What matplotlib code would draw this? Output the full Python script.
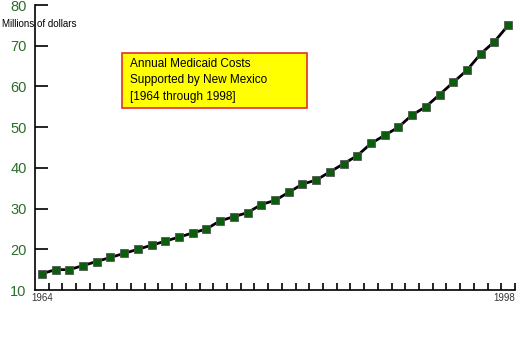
import matplotlib
matplotlib.use("Agg")
import matplotlib.pyplot as plt
from matplotlib.patches import Rectangle

plt.rcParams['font.family'] = ['Liberation Sans', 'DejaVu Sans']

years = list(range(1964, 1999))
costs = [14, 15, 15, 16, 17, 18, 19, 20, 21, 22, 23, 24, 25, 27, 28, 29, 31, 32,
         34, 36, 37, 39, 41, 43, 46, 48, 50, 53, 55, 58, 61, 64, 68, 71, 75]
y_ticks = [10, 20, 30, 40, 50, 60, 70, 80]
x_labels = [1964, 1998]
title_text = "Annual Medicaid Costs\nSupported by New Mexico\n[1964 through 1998]"
ylabel_text = "Millions of dollars"

fig = plt.figure(figsize=(5.18, 3.61), dpi=100)
ax = fig.add_axes([35/518, 1-290/361, 480/518, 285/361])

ax.plot(years, costs, color='black', lw=2, marker='s', markersize=5.5,
        markerfacecolor='#0b5e0b', markeredgecolor='#555555', markeredgewidth=0.6,
        zorder=3)

ax.set_xlim(years[0]-0.5, years[-1]+0.5)
ax.set_ylim(y_ticks[0], y_ticks[-1])

for s in ['top', 'right']:
    ax.spines[s].set_visible(False)
for s in ['left', 'bottom']:
    ax.spines[s].set_color('black')
    ax.spines[s].set_linewidth(1.2)

ax.set_yticks(y_ticks)
ax.set_yticklabels([str(v) for v in y_ticks])
ax.tick_params(axis='y', direction='in', length=9, width=1.2, colors='black',
               labelcolor='#2a6e2a', labelsize=10.5, pad=6)
ygray = {20, 40, 70}
for t, v in zip(ax.yaxis.get_major_ticks(), y_ticks):
    if v in ygray:
        t.tick1line.set_color('#888888')
    if v == 10:
        t.tick1line.set_visible(False)

bounds = [y + 0.5 for y in years]
ax.set_xticks(bounds)
ax.set_xticklabels([])
ax.tick_params(axis='x', direction='in', length=5, width=1.2)
for i, t in enumerate(ax.xaxis.get_major_ticks()):
    t.tick1line.set_color('black' if i % 2 == 0 else '#888888')

for x, ha, dx in zip(x_labels, ['center', 'right'], [0, 5]):
    ax.annotate(str(x), xy=(x, 0), xycoords=('data', 'axes fraction'),
                xytext=(dx, -2.5), textcoords='offset points',
                ha=ha, va='top', fontsize=7, color='#333333')

fig.text(2/518, 1-24/361, ylabel_text, fontsize=7, color='black',
         ha='left', va='center', zorder=6)

fig.patches.append(Rectangle((122/518, 1-108/361), 185/518, 55/361,
                             transform=fig.transFigure, facecolor='#ffff00',
                             edgecolor='#e03030', linewidth=1.2, zorder=1))
fig.text(130/518, 1-58/361, title_text, fontsize=8.5, color='black',
         ha='left', va='top', linespacing=1.5, zorder=6)

fig.savefig('out.png', dpi=100)
